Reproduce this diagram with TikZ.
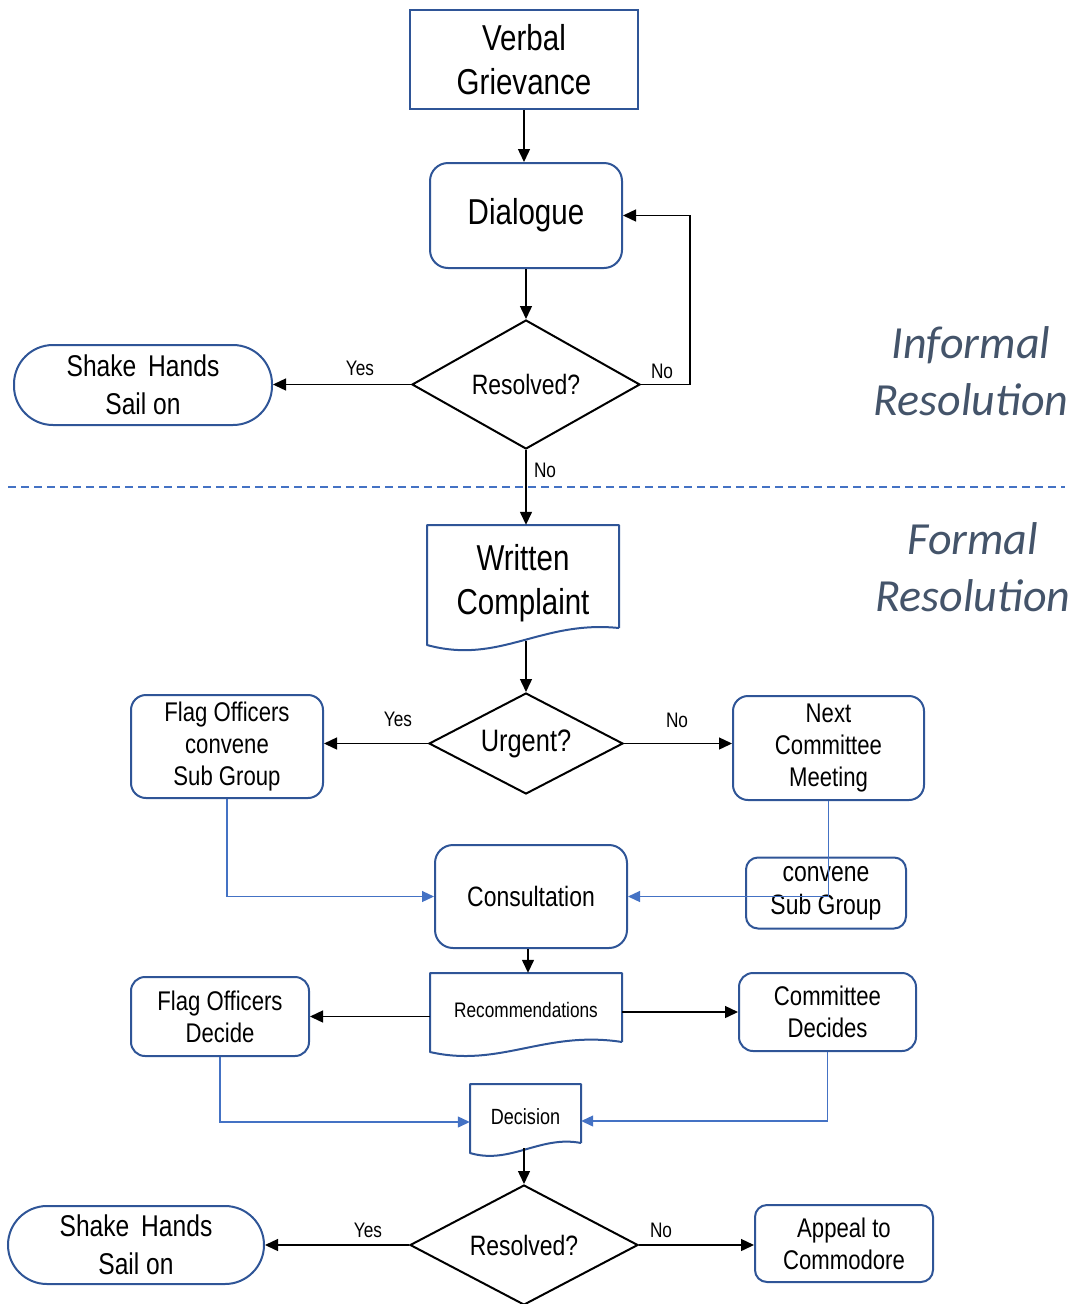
\documentclass[tikz,border=0pt]{standalone}
\usepackage{fontspec}
\setmainfont{Liberation Sans}
\newfontfamily\nar[FakeStretch=0.82]{Liberation Sans}
\newfontfamily\cali{Carlito}
\usetikzlibrary{shapes.geometric,arrows.meta,calc}
\definecolor{bord}{HTML}{2F5597}
\definecolor{lnk}{HTML}{4472C4}
\definecolor{slate}{HTML}{44546A}
\tikzset{
  box/.style={draw=bord, line width=2pt, fill=white, align=center, inner sep=0pt, text=black},
  rbox/.style={box, rounded corners=16pt},
  stad/.style={box, rounded corners=39pt},
  docnode/.style={align=center, inner sep=0pt, text=black},
  docline/.style={draw=bord, line width=2pt, line join=round},
  dmd/.style={diamond, draw=black, line width=2pt, aspect=2, inner sep=0pt, align=center, fill=white},
  arr/.style={draw=black, line width=1.4pt, -{Triangle[length=13pt,width=12pt]}},
  barr/.style={draw=lnk, line width=1.2pt, -{Triangle[length=12pt,width=11pt]}},
  lbl/.style={inner sep=0pt, font=\nar\fontsize{21}{25}\selectfont},
  big/.style={font=\nar\fontsize{36}{44}\selectfont},
  mid/.style={font=\nar\fontsize{28}{33}\selectfont},
  sml/.style={font=\nar\fontsize{27}{32}\selectfont},
  side/.style={font=\cali\itshape\fontsize{46}{57}\selectfont, text=slate, align=center, inner sep=0pt},
}
\begin{document}
\begin{tikzpicture}[x=1pt,y=-1pt]
\useasboundingbox (0,0) rectangle (1082,1304);

% ---------- informal part ----------
\node[box, big, minimum width=228pt, minimum height=99pt] (vg) at (524,59.5) {Verbal\\Grievance};
\node[rbox, big, rounded corners=18pt, minimum width=192pt, minimum height=105pt] (dia) at (526,215.5) {\raisebox{-5pt}{Dialogue}};
\node[dmd, mid, minimum width=228pt, minimum height=129pt] (res1) at (526,384.5) {Resolved?};
\node[stad, font=\nar\fontsize{30}{38}\selectfont, minimum width=258pt, minimum height=80pt] (sh1) at (143,385) {Shake\ \,Hands\\Sail\ on};

\node[side] (inf) at (971,371) {Informal\\Resolution};
\node[side] (frm) at (973,567) {Formal\\Resolution};

\draw[draw=lnk, line width=1.2pt, dash pattern=on 8pt off 5pt] (8,487) coordinate (dl) -- (1065,487) coordinate (dr);

% ---------- written complaint ----------
\node[docnode, big, minimum width=192pt, minimum height=116pt] (wc) at (523,583) {Written\\Complaint};
\draw[docline] (619,628) -- (619,525) -- (427,525) -- (427,645) .. controls (500,665) and (540,620) .. (619,628);

\node[dmd, font=\nar\fontsize{31}{36}\selectfont, minimum width=194pt, minimum height=101pt] (urg) at (526,743.5) {Urgent?};
\node[rbox, sml, rounded corners=15pt, minimum width=192pt, minimum height=103pt] (fo1) at (227,746.5) {Flag Officers\\convene\\Sub Group};
\node[rbox, sml, rounded corners=15pt, minimum width=191pt, minimum height=104pt] (ncm) at (828.5,748) {Next\\Committee\\Meeting};
\node[rbox, mid, rounded corners=18pt, minimum width=192pt, minimum height=103pt] (cons) at (531,896.5) {Consultation};
\node[rbox, mid, rounded corners=12pt, minimum width=160pt, minimum height=71pt] (csg) at (826,893) {convene\\Sub Group};

\node[docnode, font=\nar\fontsize{21}{25}\selectfont, minimum width=192pt, minimum height=74pt] (rec) at (526,1010) {Recommendations};
\draw[docline] (622,1042) -- (622,973) -- (430,973) -- (430,1052) .. controls (500,1068) and (545,1030) .. (622,1042);

\node[rbox, sml, rounded corners=14pt, minimum width=178pt, minimum height=79pt] (fod) at (220,1016.5) {Flag Officers\\Decide};
\node[rbox, sml, rounded corners=14pt, minimum width=177pt, minimum height=78pt] (cd) at (827.5,1012) {Committee\\Decides};

\node[docnode, font=\nar\fontsize{22}{26}\selectfont, minimum width=111pt, minimum height=66pt] (dec) at (525.5,1117) {Decision};
\draw[docline] (581,1143) -- (581,1084) -- (470,1084) -- (470,1153) .. controls (510,1165) and (540,1135) .. (581,1143);

\node[dmd, mid, minimum width=228pt, minimum height=120pt] (res2) at (524,1245) {Resolved?};
\node[stad, font=\nar\fontsize{30}{38}\selectfont, minimum width=256pt, minimum height=78pt] (sh2) at (136,1245) {Shake\ \,Hands\\Sail\ on};
\node[rbox, font=\nar\fontsize{27}{32}\selectfont, rounded corners=12pt, minimum width=178pt, minimum height=77pt] (app) at (844,1243.5) {Appeal to\\Commodore};

% ---------- connectors ----------
\draw[arr] (vg.south) -- (vg.south |- dia.north);
\draw[arr] (dia.south) -- (res1.north);
\draw[arr] (res1.east) -- ++(49,0) |- (dia.east);
\node[lbl] (lno1) at (662,371) {No};
\draw[arr] (res1.west) -- (res1.west -| sh1.east);
\node[lbl] (lyes1) at (360,368) {Yes};
\draw[arr] (res1.south) -- (res1.south |- wc.north);
\node[lbl] (lno2) at (545,470) {No};

\draw[arr] (wc.south -| urg.north) -- (urg.north);
\draw[arr] (urg.west) -- (urg.west -| fo1.east);
\node[lbl] (lyes2) at (398,719) {Yes};
\draw[arr] (urg.east) -- (urg.east -| ncm.west);
\node[lbl] (lno3) at (677,720) {No};

\draw[barr] (fo1.south) |- (cons.west);
\draw[barr] (ncm.south) |- (cons.east);

\draw[arr] ($(cons.south)+(-3,0)$) -- ($(rec.north)+(2,0)$);
\draw[arr] (rec.west |- fod.east) -- (fod.east);
\draw[arr] (rec.east |- cd.west) -- (cd.west);

\draw[barr] (fod.south) |- ($(dec.west)+(0,5)$);
\draw[barr] (cd.south) |- ($(dec.east)+(0,4)$);

\draw[arr] ($(dec.south)+(-1.5,-2)$) -- ($(res2.north)+(0,0)$);
\draw[arr] (res2.west) -- (res2.west -| sh2.east);
\node[lbl] (lyes3) at (368,1230) {Yes};
\draw[arr] (res2.east) -- (res2.east -| app.west);
\node[lbl] (lno4) at (661,1230) {No};
\end{tikzpicture}
\end{document}
